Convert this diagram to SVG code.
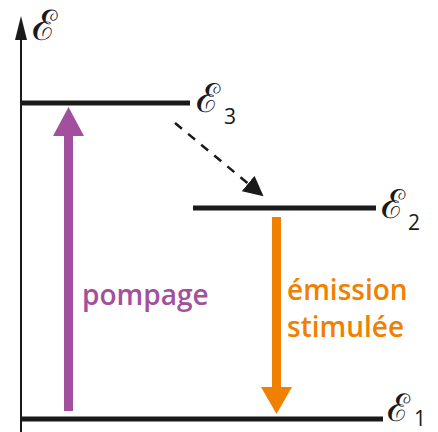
<svg xmlns="http://www.w3.org/2000/svg" width="438" height="432" viewBox="0 0 438 432">
<defs>
<style>
.lvl{stroke:#1a1a1a;stroke-width:5;fill:none}
.sym{font-family:"DejaVu Serif",serif;fill:#1a1a1a}
.sub{font-family:"Open Sans","Liberation Sans",sans-serif;fill:#1a1a1a;font-size:21px}
.lab{font-family:"Open Sans","Liberation Sans",sans-serif;font-weight:600;font-size:28px}
</style>
<marker id="dash" viewBox="0 0 10 10" refX="9" refY="5" markerWidth="20" markerHeight="20" markerUnits="userSpaceOnUse" orient="auto">
<path d="M0,0 L10,5 L0,10 z" fill="#1a1a1a"/>
</marker>
</defs>
<rect width="438" height="432" fill="#fff"/>
<g id="axis">
<line x1="21" y1="432" x2="21" y2="38" stroke="#1a1a1a" stroke-width="2"/>
<path d="M21,16 L27,40 L15,40 z" fill="#1a1a1a"/>
<text class="sym" x="32" y="40" font-size="42">ℰ</text>
</g>
<g id="level3">
<line class="lvl" x1="21" y1="103" x2="190" y2="103"/>
<text class="sym" x="196" y="112" font-size="40">ℰ</text>
<text class="sub" x="224" y="124">3</text>
</g>
<g id="level2">
<line class="lvl" x1="193" y1="208" x2="376" y2="208"/>
<text class="sym" x="381" y="218" font-size="40">ℰ</text>
<text class="sub" x="408" y="230">2</text>
</g>
<g id="level1">
<line class="lvl" x1="21" y1="419" x2="383" y2="419" stroke-width="6"/>
<text class="sym" x="387" y="421" font-size="38">ℰ</text>
<text class="sub" x="414" y="426" font-size="18">1</text>
</g>
<g id="connectors">
<g id="pompage">
<rect x="64" y="134" width="9" height="277" fill="#a2509e"/>
<path d="M68.5,107 L84,136 L53,136 z" fill="#a2509e"/>
</g>
<g id="emission">
<rect x="272" y="217" width="9" height="172" fill="#f08000"/>
<path d="M276.5,414 L292,387 L261,387 z" fill="#f08000"/>
</g>
<line x1="175" y1="123" x2="262" y2="195" stroke="#1a1a1a" stroke-width="2.5" stroke-dasharray="9,8" marker-end="url(#dash)"/>
</g>
<text class="lab" x="82" y="305" fill="#a2509e">pompage</text>
<text class="lab" x="287" y="300" fill="#f08000">émission</text>
<text class="lab" x="287" y="337" fill="#f08000">stimulée</text>
</svg>
